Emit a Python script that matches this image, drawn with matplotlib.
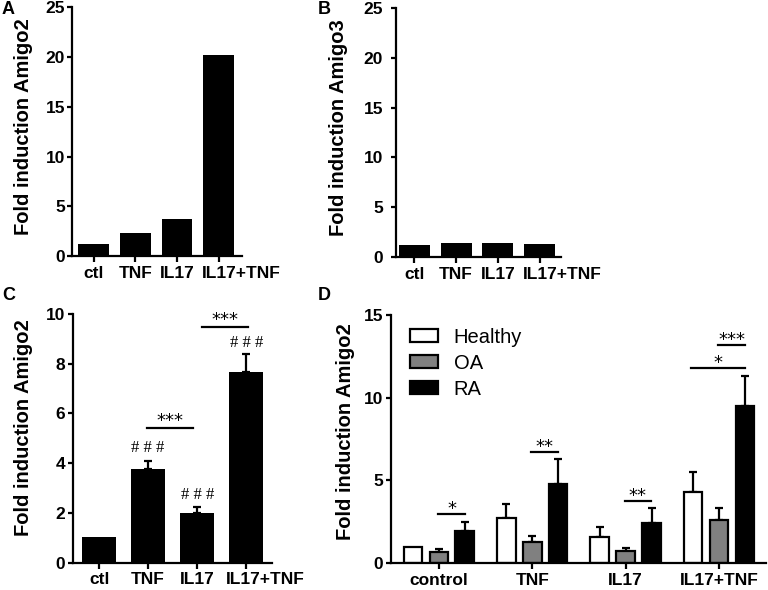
import matplotlib
matplotlib.use('Agg')
import matplotlib.pyplot as plt
from matplotlib.patches import Patch
from matplotlib.transforms import ScaledTranslation
import numpy as np

plt.rcParams['font.family'] = ['Liberation Sans', 'DejaVu Sans']

# panel A / B: single values
cats_ab = ['ctl', 'TNF', 'IL17', 'IL17+TNF']
amigo2_a = [1.24, 2.34, 3.72, 20.2]
amigo3_b = [1.2, 1.44, 1.37, 1.33]

# panel C: mean + upper SEM
cats_c = ['ctl', 'TNF', 'IL17', 'IL17+TNF']
amigo2_c = [1.05, 3.77, 1.98, 7.65]
amigo2_c_err = [0.0, 0.33, 0.24, 0.73]
hash_c = ['', '# # #', '# # #', '# # #']
hash_c_y = [0, 4.6, 2.72, 8.83]

# panel D: groups x disease
groups_d = ['control', 'TNF', 'IL17', 'IL17+TNF']
series_d = ['Healthy', 'OA', 'RA']
colors_d = ['white', '#808080', 'black']
healthy = [1.0, 2.76, 1.57, 4.33]
oa = [0.68, 1.31, 0.72, 2.62]
ra = [1.97, 4.81, 2.45, 9.50]
healthy_err = [0.0, 0.80, 0.64, 1.18]
oa_err = [0.19, 0.36, 0.21, 0.70]
ra_err = [0.50, 1.47, 0.91, 1.79]

# significance brackets: (x0, x1, y_line, label)
sig_c = [(0.98, 1.92, 5.43, '***'), (2.1, 3.04, 9.47, '***')]
sig_d = [(-0.01, 0.28, 2.98, '*'), (0.99, 1.28, 6.74, '**'),
         (1.99, 2.27, 3.78, '**'), (2.7, 3.28, 11.77, '*'),
         (2.99, 3.28, 13.18, '***')]

LW = 1.6


def style_axes(ax, ypad):
    for s in ['top', 'right']:
        ax.spines[s].set_visible(False)
    for s in ['left', 'bottom']:
        ax.spines[s].set_linewidth(LW)
    ax.tick_params(axis='y', length=3.5, width=LW, pad=ypad, labelsize=12.5)
    ax.tick_params(axis='x', length=4, width=LW, pad=3, labelsize=12.5)
    for lbl in ax.get_xticklabels() + ax.get_yticklabels():
        lbl.set_fontweight('bold')


def shift_last_label(ax, dx_px):
    # the long last category label sits to the right of its tick
    lbl = ax.get_xticklabels()[-1]
    lbl.set_transform(lbl.get_transform()
                      + ScaledTranslation(dx_px / 100, 0, fig.dpi_scale_trans))


def add_sig(ax, items, up):
    for x0, x1, yl, lab in items:
        ax.plot([x0, x1], [yl, yl], color='black', lw=LW, clip_on=False)
        ax.annotate(lab, xy=((x0 + x1) / 2, yl), xytext=(0, up),
                    textcoords='offset points', ha='center', va='baseline',
                    fontsize=13, family='DejaVu Sans', annotation_clip=False)


fig = plt.figure(figsize=(7.68, 5.90), dpi=100)


# axes rects from pixel positions
def rect(l, r, t, b):
    return [l / 768, 1 - b / 590, (r - l) / 768, (b - t) / 590]


axA = fig.add_axes(rect(72, 241.7, 7.3, 256))
axB = fig.add_axes(rect(396, 561, 8, 257))
axC = fig.add_axes(rect(72.7, 271.7, 314, 562.7))
axD = fig.add_axes(rect(391.3, 765.7, 314.8, 563.3))

x = np.arange(4)

# A
axA.bar(x, amigo2_a, width=0.74, color='black')
axA.set_xlim(-0.52, 3.55)
axA.set_ylim(0, 25)
axA.set_yticks([0, 5, 10, 15, 20, 25])
axA.set_xticks(x)
axA.set_xticklabels(cats_ab)
axA.set_ylabel('Fold induction Amigo2', fontsize=14.5, fontweight='bold')
axA.yaxis.set_label_coords(-39 / 169.7, 0.52)
style_axes(axA, 1.5)
shift_last_label(axA, 23)

# B
axB.bar(x, amigo3_b, width=0.74, color='black')
axB.set_xlim(-0.44, 3.51)
axB.set_ylim(0, 25)
axB.set_yticks([0, 5, 10, 15, 20, 25])
axB.set_xticks(x)
axB.set_xticklabels(cats_ab)
axB.set_ylabel('Fold induction Amigo3', fontsize=14.5, fontweight='bold')
axB.yaxis.set_label_coords(-48 / 165, 0.52)
style_axes(axB, 5.8)
shift_last_label(axB, 23)

# C
axC.bar(x, amigo2_c, width=0.7, color='black')
axC.errorbar(x[1:], amigo2_c[1:], yerr=[np.zeros(3), amigo2_c_err[1:]],
             fmt='none', ecolor='black', elinewidth=LW, capsize=3,
             capthick=LW)
for xi, t, yy in zip(x, hash_c, hash_c_y):
    if t:
        axC.text(xi, yy, t, ha='center', va='center', fontsize=12,
                 family='Liberation Serif')
add_sig(axC, sig_c, 1.5)
axC.set_xlim(-0.54, 3.52)
axC.set_ylim(0, 10)
axC.set_yticks([0, 2, 4, 6, 8, 10])
axC.set_xticks(x)
axC.set_xticklabels(cats_c)
axC.set_ylabel('Fold induction Amigo2', fontsize=14.5, fontweight='bold')
axC.yaxis.set_label_coords(-39.7 / 199, 0.545)
style_axes(axC, 2)
shift_last_label(axC, 19)

# D
bw = 0.2
off = 0.277
vals_d = [healthy, oa, ra]
errs_d = [healthy_err, oa_err, ra_err]
for i, (name, col, v, e) in enumerate(zip(series_d, colors_d, vals_d, errs_d)):
    xs = x + (i - 1) * off
    axD.bar(xs, v, width=bw, color=col, edgecolor='black', linewidth=LW,
            label=name, zorder=2)
    mask = np.array(e) > 0
    axD.errorbar(xs[mask], np.array(v)[mask],
                 yerr=[np.zeros(mask.sum()), np.array(e)[mask]],
                 fmt='none', ecolor='black', elinewidth=LW, capsize=3,
                 capthick=LW, zorder=1)
add_sig(axD, sig_d, 0)
axD.set_xlim(-0.51, 3.5)
axD.set_ylim(0, 15)
axD.set_yticks([0, 5, 10, 15])
axD.set_xticks(x)
axD.set_xticklabels(groups_d)
axD.set_ylabel('Fold induction Amigo2', fontsize=14.5, fontweight='bold')
axD.yaxis.set_label_coords(-36 / 374.4, 0.53)
style_axes(axD, 2.2)
handles = [Patch(facecolor=c, edgecolor='black', linewidth=LW, label=n)
           for n, c in zip(series_d, colors_d)]
axD.legend(handles=handles, loc='upper left', frameon=False, fontsize=14.5,
           handlelength=1.35, handleheight=0.6, labelspacing=0.35,
           handletextpad=0.8, borderaxespad=0.2, bbox_to_anchor=(0.019, 0.996))

# panel letters
for lab, px, py in [('A', 2, 10), ('B', 318, 10), ('C', 2, 296), ('D', 318, 296)]:
    fig.text(px / 768, 1 - py / 590, lab, fontsize=13, fontweight='bold',
             ha='left', va='center')

fig.savefig('out.png', dpi=100)
